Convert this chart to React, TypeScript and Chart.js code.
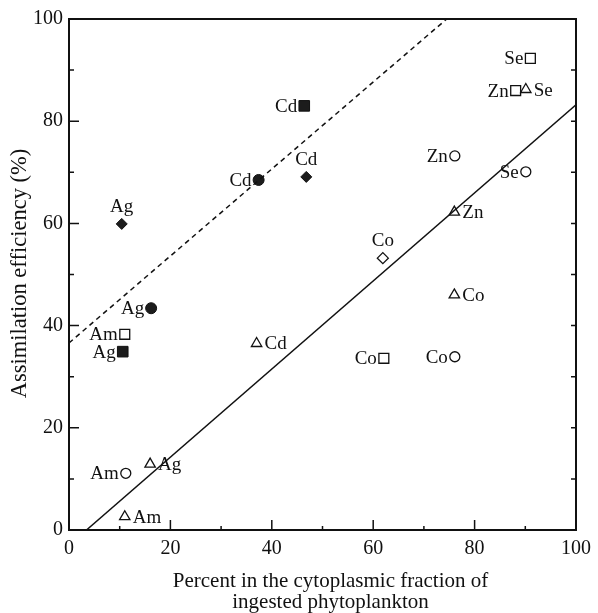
import React, { useEffect, useRef } from 'react';
import { Chart, registerables } from 'chart.js';

Chart.register(...registerables);

// ---- axis ticks ----
const MAJOR_TICKS = [0, 20, 40, 60, 80, 100];
const MINOR_TICKS = [10, 30, 50, 70, 90];

// ---- axis titles ----
const X_TITLE = ['Percent in the cytoplasmic fraction of', 'ingested phytoplankton'];
const Y_TITLE = 'Assimilation efficiency (%)';

// ---- series: filled diamonds ----
const filledDiamondX = [10.4, 46.8];
const filledDiamondY = [59.9, 69.1];
const filledDiamondLabels = ['Ag', 'Cd'];
const filledDiamondSides = ['top', 'top'];

// ---- series: filled circles ----
const filledCircleX = [37.4, 16.2];
const filledCircleY = [68.5, 43.4];
const filledCircleLabels = ['Cd', 'Ag'];
const filledCircleSides = ['left', 'left'];

// ---- series: filled squares ----
const filledSquareX = [46.4, 10.6];
const filledSquareY = [83.0, 34.9];
const filledSquareLabels = ['Cd', 'Ag'];
const filledSquareSides = ['left', 'left'];

// ---- series: open squares ----
const openSquareX = [11.0, 62.1, 88.1, 91.0];
const openSquareY = [38.3, 33.6, 86.0, 92.3];
const openSquareLabels = ['Am', 'Co', 'Zn', 'Se'];
const openSquareSides = ['left', 'left', 'left', 'left'];

// ---- series: open triangles ----
const openTriangleX = [37.0, 16.0, 11.0, 76.0, 76.0, 90.1];
const openTriangleY = [36.5, 12.9, 2.6, 62.2, 46.0, 86.2];
const openTriangleLabels = ['Cd', 'Ag', 'Am', 'Zn', 'Co', 'Se'];
const openTriangleSides = ['right', 'right', 'right', 'right', 'right', 'right'];

// ---- series: open circles ----
const openCircleX = [11.2, 76.1, 90.1, 76.1];
const openCircleY = [11.1, 73.2, 70.1, 33.9];
const openCircleLabels = ['Am', 'Zn', 'Se', 'Co'];
const openCircleSides = ['left', 'left', 'left', 'left'];

// ---- series: open diamond ----
const openDiamondX = [61.9];
const openDiamondY = [53.2];
const openDiamondLabels = ['Co'];
const openDiamondSides = ['top'];

// ---- regression lines ----
const solidLineX = [3.45, 100];
const solidLineY = [0, 83.2];
const dashedLineX = [0, 74.5];
const dashedLineY = [36.6, 100];

const FONT = '"Liberation Serif", "Times New Roman", serif';
const INK = '#111';

const zip = (xs: number[], ys: number[]) => xs.map((x, i) => ({ x, y: ys[i] }));

const markerDataset = (
  xs: number[], ys: number[], labels: string[], sides: string[],
  style: string, radius: number, filled: boolean
) => ({
  type: 'scatter' as const,
  data: zip(xs, ys),
  pointStyle: style,
  pointRadius: radius,
  pointHoverRadius: radius,
  pointBackgroundColor: filled ? '#1c1c1c' : 'rgba(0,0,0,0)',
  pointBorderColor: INK,
  pointBorderWidth: filled ? 1 : 1.3,
  showLine: false,
  pointLabels: labels,
  labelSides: sides,
});

const annotatePlugin = {
  id: 'annotate',
  beforeDatasetsDraw(chart: any) {
    const { ctx, chartArea, scales } = chart;
    const { left, right, top, bottom } = chartArea;
    const xs = scales.x;
    const ys = scales.y;
    ctx.save();
    ctx.strokeStyle = INK;
    ctx.lineWidth = 2;
    ctx.strokeRect(left, top, right - left, bottom - top);
    ctx.lineWidth = 1.5;
    ctx.beginPath();
    MAJOR_TICKS.forEach((v) => {
      const py = ys.getPixelForValue(v);
      ctx.moveTo(left, py); ctx.lineTo(left + 10, py);
      ctx.moveTo(right, py); ctx.lineTo(right - 5, py);
      const px = xs.getPixelForValue(v);
      ctx.moveTo(px, bottom); ctx.lineTo(px, bottom - 10);
    });
    MINOR_TICKS.forEach((v) => {
      const py = ys.getPixelForValue(v);
      ctx.moveTo(left, py); ctx.lineTo(left + 5, py);
      ctx.moveTo(right, py); ctx.lineTo(right - 5, py);
      const px = xs.getPixelForValue(v);
      ctx.moveTo(px, bottom); ctx.lineTo(px, bottom - 4);
    });
    ctx.stroke();
    ctx.restore();
  },
  afterDatasetsDraw(chart: any) {
    const { ctx } = chart;
    ctx.save();
    ctx.fillStyle = INK;
    ctx.font = `19px ${FONT}`;
    ctx.textBaseline = 'alphabetic';
    chart.data.datasets.forEach((ds: any, i: number) => {
      if (!ds.pointLabels) return;
      const meta = chart.getDatasetMeta(i);
      meta.data.forEach((el: any, j: number) => {
        const text = ds.pointLabels[j];
        const side = ds.labelSides[j];
        if (side === 'left') {
          ctx.textAlign = 'right';
          ctx.fillText(text, el.x - 7, el.y + 6);
        } else if (side === 'right') {
          ctx.textAlign = 'left';
          ctx.fillText(text, el.x + 8, el.y + 6);
        } else {
          ctx.textAlign = 'center';
          ctx.fillText(text, el.x, el.y - 12);
        }
      });
    });
    ctx.restore();
  },
  afterDraw(chart: any) {
    const { ctx, chartArea } = chart;
    ctx.save();
    ctx.fillStyle = INK;
    ctx.textAlign = 'center';
    ctx.textBaseline = 'middle';
    ctx.font = `21px ${FONT}`;
    const cx = (chartArea.left + chartArea.right) / 2 + 8;
    ctx.fillText(X_TITLE[0], cx, chartArea.bottom + 51);
    ctx.fillText(X_TITLE[1], cx, chartArea.bottom + 72);
    ctx.font = `22.5px ${FONT}`;
    ctx.translate(20, (chartArea.top + chartArea.bottom) / 2 - 1);
    ctx.rotate(-Math.PI / 2);
    ctx.fillText(Y_TITLE, 0, 0);
    ctx.restore();
  },
};

export default function App() {
  const ref = useRef<HTMLCanvasElement | null>(null);

  useEffect(() => {
    if (!ref.current) return;
    const tickFont = { family: FONT, size: 20 };
    const chart = new Chart(ref.current, {
      type: 'scatter',
      data: {
        datasets: [
          {
            type: 'line' as const,
            data: zip(solidLineX, solidLineY),
            borderColor: INK,
            borderWidth: 1.5,
            pointRadius: 0,
            fill: false,
          } as any,
          {
            type: 'line' as const,
            data: zip(dashedLineX, dashedLineY),
            borderColor: INK,
            borderWidth: 1.5,
            borderDash: [5, 4],
            pointRadius: 0,
            fill: false,
          } as any,
          markerDataset(filledDiamondX, filledDiamondY, filledDiamondLabels, filledDiamondSides, 'rectRot', 5.5, true),
          markerDataset(filledCircleX, filledCircleY, filledCircleLabels, filledCircleSides, 'circle', 5.5, true),
          markerDataset(filledSquareX, filledSquareY, filledSquareLabels, filledSquareSides, 'rect', 7.5, true),
          markerDataset(openSquareX, openSquareY, openSquareLabels, openSquareSides, 'rect', 7, false),
          markerDataset(openTriangleX, openTriangleY, openTriangleLabels, openTriangleSides, 'triangle', 6, false),
          markerDataset(openCircleX, openCircleY, openCircleLabels, openCircleSides, 'circle', 5, false),
          markerDataset(openDiamondX, openDiamondY, openDiamondLabels, openDiamondSides, 'rectRot', 5.5, false),
        ] as any,
      },
      options: {
        responsive: false,
        animation: false,
        events: [],
        layout: { padding: { top: 19, right: 18, left: 0, bottom: 0 } },
        plugins: {
          legend: { display: false },
          tooltip: { enabled: false },
        },
        scales: {
          x: {
            type: 'linear',
            min: 0,
            max: 100,
            grid: { display: false, drawTicks: false },
            border: { display: false },
            ticks: { stepSize: 20, font: tickFont, color: INK, padding: 7, maxRotation: 0 },
            afterFit: (s: any) => { s.height = 83; },
          },
          y: {
            type: 'linear',
            min: 0,
            max: 100,
            grid: { display: false, drawTicks: false },
            border: { display: false },
            ticks: { stepSize: 20, font: tickFont, color: INK, padding: 6 },
            afterFit: (s: any) => { s.width = 69; },
          },
        },
      } as any,
      plugins: [annotatePlugin],
    });
    return () => chart.destroy();
  }, []);

  return (
    <div style={{ position: 'absolute', left: 0, top: 0, width: 598, height: 613, background: '#fff' }}>
      <canvas ref={ref} width={598} height={613} />
    </div>
  );
}
